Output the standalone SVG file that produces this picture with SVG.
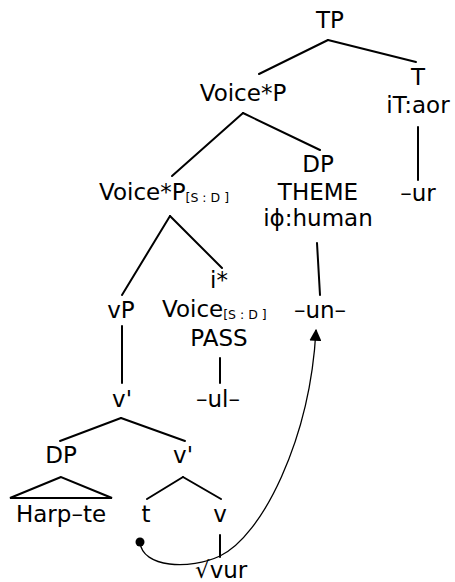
<svg xmlns="http://www.w3.org/2000/svg" width="455" height="582" viewBox="0 0 455 582">
<defs>
<style>
text{font-family:"DejaVu Sans","Liberation Sans",sans-serif;font-size:23px;fill:#000;text-anchor:middle}
.sub{font-size:12.5px}
.st{text-anchor:start}
.e{stroke:#000;stroke-width:2;fill:none;stroke-linecap:round}
.mv{stroke:#000;stroke-width:1.3;fill:none}
</style>
<marker id="ah" viewBox="0 0 10 10" refX="9" refY="5" markerWidth="12" markerHeight="12" markerUnits="userSpaceOnUse" orient="auto">
<path d="M0,0 L10,5 L0,10 z" fill="#000"/>
</marker>
</defs>
<rect width="455" height="582" fill="#fff"/>
<g id="connectors">
<line class="e" x1="328" y1="40" x2="259" y2="74"/>
<line class="e" x1="328" y1="40" x2="416" y2="62"/>
<line class="e" x1="418" y1="127" x2="418" y2="180"/>
<line class="e" x1="243" y1="113" x2="320" y2="150"/>
<line class="e" x1="243" y1="113" x2="172" y2="176"/>
<line class="e" x1="317" y1="243" x2="320" y2="295"/>
<line class="e" x1="170" y1="216" x2="122" y2="295"/>
<line class="e" x1="170" y1="216" x2="222" y2="268"/>
<line class="e" x1="220" y1="358" x2="220" y2="383"/>
<line class="e" x1="122" y1="326" x2="122" y2="383"/>
<line class="e" x1="121" y1="418" x2="60" y2="441"/>
<line class="e" x1="121" y1="418" x2="185" y2="441"/>
<path class="e" d="M61,477 L10,498 L112,498 Z" stroke-linejoin="miter"/>
<line class="e" x1="183" y1="477" x2="147" y2="499"/>
<line class="e" x1="183" y1="477" x2="221" y2="499"/>
<line class="e" x1="220" y1="535" x2="220" y2="557"/>
<circle cx="140" cy="542" r="4.5" fill="#000"/>
<path class="mv" d="M140,542 C142,568 190,570 220,556 C262,536 310,440 316,330" marker-end="url(#ah)"/>
</g>
<g id="TP"><text x="330" y="28">TP</text></g>
<g id="T"><text x="418" y="85">T</text><text x="418" y="113">iT:aor</text></g>
<g id="ur"><text x="418" y="201">–ur</text></g>
<g id="VoiceP"><text x="243" y="101">Voice*P</text></g>
<g id="DPtheme"><text x="318" y="172">DP</text><text x="318" y="200">THEME</text><text x="318" y="226">iϕ:human</text></g>
<g id="un"><text x="320" y="318">–un–</text></g>
<g id="VoiceP2"><text class="st" x="99" y="200">Voice*P<tspan class="sub" dy="2">[S : D ]</tspan></text></g>
<g id="Voice"><text x="219" y="288">i*</text><text class="st" x="162" y="317">Voice<tspan class="sub" dy="2">[S : D ]</tspan></text><text x="219" y="346">PASS</text></g>
<g id="ul"><text x="218" y="407">–ul–</text></g>
<g id="vP"><text x="121" y="318">vP</text></g>
<g id="vbar1"><text x="122" y="407">v'</text></g>
<g id="DP"><text x="61" y="463">DP</text></g>
<g id="Harpte"><text x="61" y="522">Harp–te</text></g>
<g id="vbar2"><text x="183" y="463">v'</text></g>
<g id="t"><text x="146" y="522">t</text></g>
<g id="v"><text x="220" y="522">v</text></g>
<g id="root"><text class="st" x="195" y="578">√vur</text></g>
</svg>
